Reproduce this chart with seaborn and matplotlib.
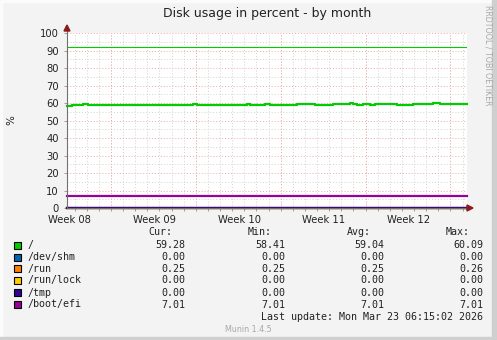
import numpy as np
import pandas as pd
import matplotlib
matplotlib.use("Agg")
import matplotlib.pyplot as plt
import seaborn as sns
from matplotlib.patches import Rectangle, Polygon
from matplotlib.lines import Line2D

# ---------------- data ----------------
title = "Disk usage in percent - by month"
y_label = "%"
week_labels = ["Week 08", "Week 09", "Week 10", "Week 11", "Week 12"]
week_label_days = [0.2, 7.2, 14.2, 21.2, 28.2]
week_start_days = [3.63, 10.63, 17.63, 24.63, 31.63]
day_grid_start = 0.63
x_end = 33.0

root_t = [0.0, 0.41, 1.32, 1.73, 3.71, 4.21, 5.03, 5.78, 7.18, 7.43, 10.4,
          10.73, 10.97, 14.85, 15.1, 16.34, 16.75, 18.98, 20.46, 21.95, 23.35,
          23.6, 23.93, 24.42, 25.0, 25.41, 27.23, 28.55, 30.2, 30.78, 33.0]
root_v = [58.41, 59.0, 59.5, 59.0, 58.7, 59.0, 58.7, 59.0, 58.6, 59.0, 59.5,
          58.7, 59.0, 59.5, 59.0, 59.4, 59.0, 59.3, 59.0, 59.3, 60.0,
          59.3, 58.8, 59.3, 59.0, 59.3, 59.0, 59.3, 60.09, 59.3, 59.28]

series_names = ["/", "/dev/shm", "/run", "/run/lock", "/tmp", "/boot/efi"]
series_colors = ["#00CC00", "#0066B3", "#FF8000", "#FFCC00", "#330099", "#990099"]
flat_levels = [None, 0.0, 0.25, 0.0, 0.0, 7.01]
cur_vals = ["59.28", "0.00", "0.25", "0.00", "0.00", "7.01"]
min_vals = ["58.41", "0.00", "0.25", "0.00", "0.00", "7.01"]
avg_vals = ["59.04", "0.00", "0.25", "0.00", "0.00", "7.01"]
max_vals = ["60.09", "0.00", "0.26", "0.00", "0.00", "7.01"]
warning_level = 92
last_update = "Last update: Mon Mar 23 06:15:02 2026"
munin_version = "Munin 1.4.5"
watermark = "RRDTOOL / TOBI OETIKER"

# ---------------- figure ----------------
W, H = 497, 340
BG = "#F3F3F3"
fig = plt.figure(figsize=(W / 100, H / 100), dpi=100, facecolor=BG)

def fx(px):
    return px / W

def fy(py):
    return 1 - py / H

# frame shading
fig.patches.append(Rectangle((fx(0), fy(H)), fx(2), 1, transform=fig.transFigure, color="#FBFBFB", zorder=0))
fig.patches.append(Rectangle((fx(0), fy(2)), 1, 2 / H, transform=fig.transFigure, color="#FBFBFB", zorder=0))
fig.patches.append(Rectangle((fx(492), 0), 5 / W, 1, transform=fig.transFigure, color="#CFCFCF", zorder=0))
fig.patches.append(Rectangle((0, 0), 1, 3 / H, transform=fig.transFigure, color="#CFCFCF", zorder=0))

ax = fig.add_axes([fx(67), fy(208), 400 / W, 175 / H])
ax.set_facecolor("white")
ax.set_xlim(0, x_end)
ax.set_ylim(0, 100)

# grid
for v in range(5, 100, 10):
    ax.axhline(v, color="#D2D2D2", lw=0.7, ls=(0, (1, 2)), zorder=1)
for v in range(10, 101, 10):
    ax.axhline(v, color="#F2A8A8", lw=0.7, ls=(0, (1, 2)), zorder=1)
d = day_grid_start
while d < x_end:
    ax.axvline(d, color="#D2D2D2", lw=0.7, ls=(0, (1, 2)), zorder=1)
    d += 1
for d in week_start_days:
    ax.axvline(d, color="#F2A8A8", lw=0.7, ls=(0, (1, 2)), zorder=1)

# warning rule
ax.axhline(warning_level, color="#00CC00", lw=0.8, zorder=2)

# series
for name, color, lvl in zip(series_names, series_colors, flat_levels):
    if lvl is None:
        df = pd.DataFrame({"t": root_t, "v": root_v})
    else:
        df = pd.DataFrame({"t": [0.0, x_end], "v": [lvl, lvl]})
    sns.lineplot(data=df, x="t", y="v", ax=ax, color=color, lw=1.6,
                 drawstyle="steps-post", estimator=None, sort=False,
                 clip_on=False, zorder=3)

ax.set_xlabel("")
ax.set_ylabel("")
for s in ["top", "right", "left", "bottom"]:
    ax.spines[s].set_visible(False)

ax.set_yticks(range(0, 101, 10))
ax.set_yticklabels([str(v) for v in range(0, 101, 10)], fontsize=7.2, color="#222222")
ax.set_xticks(week_label_days)
ax.set_xticklabels(week_labels, fontsize=7.2, color="#222222")
ax.tick_params(axis="y", length=2, width=0.6, color="#909090", pad=4)
ax.tick_params(axis="x", length=0, pad=5)
ax.set_xticks(np.arange(day_grid_start, x_end, 1.0), minor=True)
ax.tick_params(axis="x", which="minor", length=2, width=0.6, color="#909090", direction="out")

# axes lines with arrows
fig.lines.append(Line2D([fx(67), fx(67)], [fy(208), fy(29)], transform=fig.transFigure, color="#707070", lw=0.8, zorder=5))
fig.lines.append(Line2D([fx(67), fx(469)], [fy(208), fy(208)], transform=fig.transFigure, color="#707070", lw=0.8, zorder=2))
fig.patches.append(Polygon([(fx(64), fy(31)), (fx(70), fy(31)), (fx(67), fy(25))], closed=True,
                           transform=fig.transFigure, color="#8B1A1A", zorder=6))
fig.patches.append(Polygon([(fx(467), fy(205)), (fx(467), fy(211)), (fx(473), fy(208))], closed=True,
                           transform=fig.transFigure, color="#8B1A1A", zorder=6))

# title and labels
fig.text(fx(267), fy(13), title, ha="center", va="center", fontsize=9, color="#222222")
fig.text(fx(11), fy(120), y_label, ha="center", va="center", rotation=90, fontsize=7.5, color="#222222")
fig.text(fx(488), fy(5), watermark, ha="center", va="top", rotation=270, fontsize=5.7, color="#A8A8A8")

# legend
mono = "DejaVu Sans Mono"
fs = 7.2
header_y = 232
for hdr, xr in zip(["Cur:", "Min:", "Avg:", "Max:"], [172, 272, 371, 470]):
    fig.text(fx(xr), fy(header_y), hdr, ha="right", va="center", family=mono, fontsize=fs, color="#222222")
row_y = [245, 257, 268.7, 280.3, 292.5, 304.5]
for i, name in enumerate(series_names):
    y = row_y[i]
    fig.patches.append(Rectangle((fx(13.5), fy(y + 3.5)), 7 / W, 7 / H, transform=fig.transFigure,
                                 facecolor=series_colors[i], edgecolor="black", lw=0.8))
    fig.text(fx(27), fy(y), name, ha="left", va="center", family=mono, fontsize=fs, color="#222222")
    for vals, xr in zip([cur_vals, min_vals, avg_vals, max_vals], [185, 285, 384, 483]):
        fig.text(fx(xr), fy(y), vals[i], ha="right", va="center", family=mono, fontsize=fs, color="#222222")
fig.text(fx(483), fy(316.5), last_update, ha="right", va="center", family=mono, fontsize=fs, color="#222222")
fig.text(fx(248), fy(329), munin_version, ha="center", va="center", fontsize=5.8, color="#A8A8A8")

fig.savefig("out.png", dpi=100, facecolor=BG)
